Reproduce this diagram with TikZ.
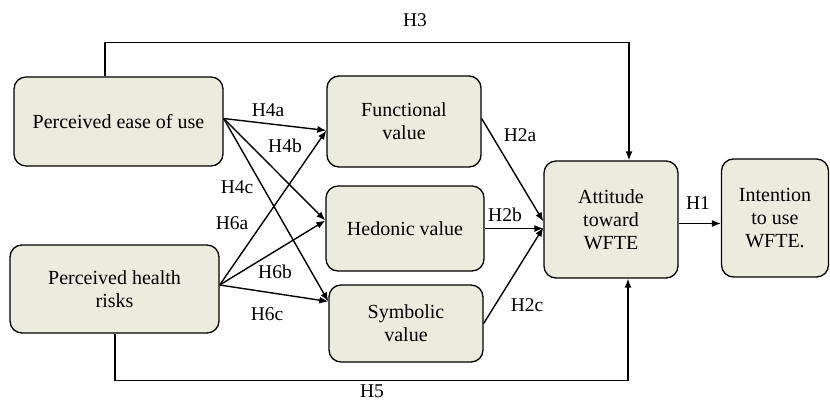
\documentclass[tikz,border=0pt]{standalone}
\usepackage{fontspec}
\setmainfont{Liberation Serif}
\usetikzlibrary{calc,arrows.meta}
\definecolor{boxfill}{RGB}{236,236,222}
\begin{document}
\begin{tikzpicture}[x=1pt,y=-1pt,
  cbox/.style={draw=black,line width=1.3pt,fill=boxfill,rounded corners=12pt,align=center,
    font=\fontsize{20}{23}\selectfont,inner sep=0pt},
  conn/.style={line width=1.4pt,-{Latex[length=9pt,width=7pt]}},
  lab/.style={font=\fontsize{19.5}{22}\selectfont,inner sep=0pt}]
\useasboundingbox (0,0) rectangle (830,401);
\node[cbox,minimum width=209pt,minimum height=89pt] (peu) at (118.5,121.5) {Perceived ease of use};
\node[cbox,minimum width=209pt,minimum height=88pt] (phr) at (114.5,289) {Perceived health\\risks};
\node[cbox,minimum width=154pt,minimum height=91pt] (fv) at (404,121.5) {Functional\\value};
\node[cbox,minimum width=158pt,minimum height=85pt] (hv) at (405,228.5) {Hedonic value};
\node[cbox,minimum width=154pt,minimum height=77pt] (sv) at (406,323.5) {Symbolic\\value};
\node[cbox,minimum width=134pt,minimum height=117pt] (att) at (611,219.5) {Attitude\\toward\\WFTE};
\node[cbox,minimum width=107pt,minimum height=118pt] (int) at (775,218) {Intention\\to use\\WFTE.};
% H4
\draw[conn] ($(peu.east)+(0,-3)$) -- ($(fv.west)+(0,9)$);
\draw[conn] ($(peu.east)+(0,-3)$) -- ($(hv.west)+(0,-8)$);
\draw[conn] ($(peu.east)+(0,-3)$) -- ($(sv.west)+(0,-22)$);
% H6
\draw[conn] ($(phr.east)+(0,-4)$) -- ($(fv.west)+(0,9)$);
\draw[conn] ($(phr.east)+(0,-4)$) -- ($(hv.west)+(0,-8)$);
\draw[conn] ($(phr.east)+(0,-4)$) -- ($(sv.west)+(0,-22)$);
% H2
\draw[conn] ($(fv.east)+(0,-3)$) -- ($(att.west)+(0,2)$);
\draw[conn] (hv.east) -- (hv.east -| att.west);
\draw[conn] (sv.east) -- ($(att.west)+(0,8)$);
% H1
\coordinate (h1s) at ($(att.east)+(0,4)$);
\draw[conn] (h1s) -- (h1s -| int.west);
% H3
\draw[conn] ($(peu.north)+(-13.5,0)$) -- ++(0,-34) -| ($(att.north)+(18,0)$);
% H5
\draw[conn] ($(phr.south)+(0.5,0)$) -- ++(0,47) -| ($(att.south)+(17,0)$);
% labels
\node[lab] (l3) at (415,20) {H3};
\node[lab] (l5) at (372,391) {H5};
\node[lab] (l4a) at (268,110) {H4a};
\node[lab] (l4b) at (285,146) {H4b};
\node[lab] (l4c) at (237,187) {H4c};
\node[lab] (l6a) at (232,223) {H6a};
\node[lab] (l6b) at (275,272) {H6b};
\node[lab] (l6c) at (267,314) {H6c};
\node[lab] (l2a) at (520,135) {H2a};
\node[lab] (l2b) at (505,215) {H2b};
\node[lab] (l2c) at (527,305) {H2c};
\node[lab] (l1) at (698,203) {H1};
\end{tikzpicture}
\end{document}
